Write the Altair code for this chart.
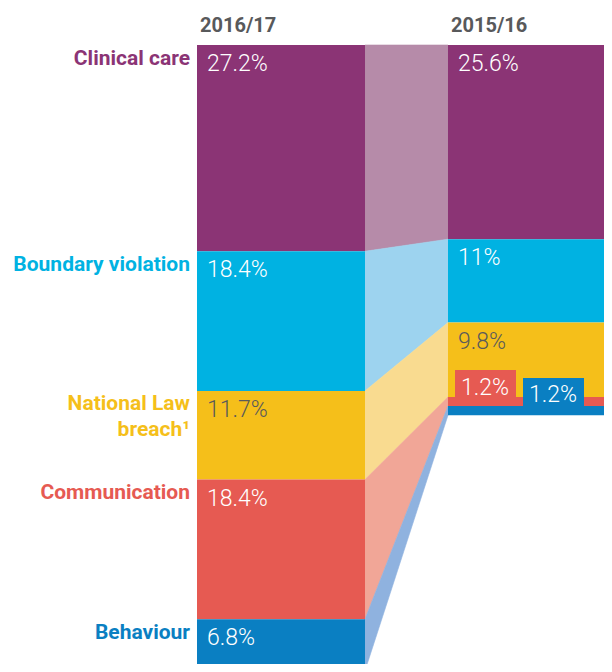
import altair as alt
import pandas as pd

# ---------------- data ----------------
categories = ["Clinical care", "Boundary violation", "National Law breach¹", "Communication", "Behaviour"]
category_text = ["Clinical care", "Boundary violation", "National Law\nbreach¹", "Communication", "Behaviour"]
years = ["2016/17", "2015/16"]
values_2016_17 = [27.2, 18.4, 11.7, 18.4, 6.8]
values_2015_16 = [25.6, 11.0, 9.8, 1.2, 1.2]

# ---------------- styles / layout ----------------
main_colors = ["#8B3475", "#00B2E2", "#F5BF1A", "#E65A52", "#0A7FC2"]
light_colors = ["#B68BA9", "#9DD3EF", "#F9DB90", "#F1A697", "#8FB2DF"]
value_text_colors = ["white", "white", "#5A5A5A", "white", "white"]

W, H = 596, 656
PX_PER_PCT = 7.585
TOP = 37
y_domain = [-TOP / PX_PER_PCT, (H - TOP) / PX_PER_PCT]
bar_x = {"2016/17": (189, 357), "2015/16": (440, 596)}
# callout boxes for thin segments: (x0, x1, box height px, text dy, anchor)
callout_layout = [(447, 508, 36, -11, "end"), (515, 576, 28, -4, "start")]
FONT = "Roboto"

rows = []
for year, vals in zip(years, [values_2016_17, values_2015_16]):
    start = 0.0
    x0, x1 = bar_x[year]
    for i, (c, v) in enumerate(zip(categories, vals)):
        rows.append(dict(year=year, cat=c, ctext=category_text[i], value=v,
                         start=start, end=start + v, x0=x0, x1=x1, tx=x0 + 10,
                         color=main_colors[i], light=light_colors[i],
                         tcolor=value_text_colors[i], label=f"{v:g}%"))
        start += v
seg = pd.DataFrame(rows)

conn = []
for c in categories:
    l = seg[(seg.year == "2016/17") & (seg.cat == c)].iloc[0]
    r = seg[(seg.year == "2015/16") & (seg.cat == c)].iloc[0]
    conn.append(dict(cat=c, x=l.x1, top=l.start, bot=l.end, light=l.light))
    conn.append(dict(cat=c, x=r.x0, top=r.start, bot=r.end, light=l.light))
conn = pd.DataFrame(conn)

xs = alt.Scale(domain=[0, W], nice=False, zero=False)
ys = alt.Scale(domain=y_domain, nice=False, zero=False, reverse=True)

connectors = alt.Chart(conn).mark_area(strokeWidth=0.6).encode(
    x=alt.X("x:Q", scale=xs, axis=None),
    y=alt.Y("top:Q", scale=ys, axis=None),
    y2="bot:Q",
    color=alt.Color("light:N", scale=None),
    stroke=alt.Color("light:N", scale=None),
    detail="cat:N",
)

bars = alt.Chart(seg).mark_rect().encode(
    x=alt.X("x0:Q", scale=xs, axis=None),
    x2="x1:Q",
    y=alt.Y("start:Q", scale=ys, axis=None),
    y2="end:Q",
    color=alt.Color("color:N", scale=None),
)

big = seg[seg.value >= 3]
value_labels = alt.Chart(big).mark_text(
    align="left", baseline="alphabetic", dy=26, fontSize=23, fontWeight=300, font=FONT
).encode(
    x=alt.X("tx:Q", scale=xs, axis=None),
    y=alt.Y("start:Q", scale=ys, axis=None),
    text="label:N",
    color=alt.Color("tcolor:N", scale=None),
)

layers = [connectors, bars, value_labels]

small = seg[seg.value < 3].reset_index(drop=True)
for i, row in small.iterrows():
    bx0, bx1, bh, tdy, anchor = callout_layout[i]
    d = pd.DataFrame([dict(bx0=bx0, bx1=bx1, tx=bx0 + 6, a=row[anchor],
                           label=row.label, color=row.color)])
    layers.append(alt.Chart(d).mark_rect(y2Offset=-bh).encode(
        x=alt.X("bx0:Q", scale=xs, axis=None), x2="bx1:Q",
        y=alt.Y("a:Q", scale=ys, axis=None), y2="a:Q",
        color=alt.Color("color:N", scale=None)))
    layers.append(alt.Chart(d).mark_text(
        align="left", baseline="alphabetic", dy=tdy, fontSize=23, fontWeight=300,
        font=FONT, color="white").encode(
        x=alt.X("tx:Q", scale=xs, axis=None),
        y=alt.Y("a:Q", scale=ys, axis=None),
        text="label:N"))

left = seg[seg.year == "2016/17"].assign(cx=lambda d: d.x0 - 7)
cat_labels = alt.Chart(left).mark_text(
    align="right", baseline="alphabetic", dy=19.5, fontSize=21, fontWeight="bold",
    font=FONT, lineBreak="\n", lineHeight=26
).encode(
    x=alt.X("cx:Q", scale=xs, axis=None),
    y=alt.Y("start:Q", scale=ys, axis=None),
    text="ctext:N",
    color=alt.Color("color:N", scale=None),
)
layers.append(cat_labels)

hdr = pd.DataFrame([dict(year=y, hx=bar_x[y][0] + 3) for y in years])
headers = alt.Chart(hdr).mark_text(
    align="left", baseline="alphabetic", fontSize=20, fontWeight="bold",
    font=FONT, color="#58595B"
).encode(
    x=alt.X("hx:Q", scale=xs, axis=None),
    y=alt.value(24),
    text="year:N",
)
layers.append(headers)

chart = alt.layer(*layers).properties(
    width=W, height=H, autosize="none", padding=0, background="white"
).configure_view(stroke=None)

chart.save("out.html", embed_options={"renderer": "svg", "actions": False})
